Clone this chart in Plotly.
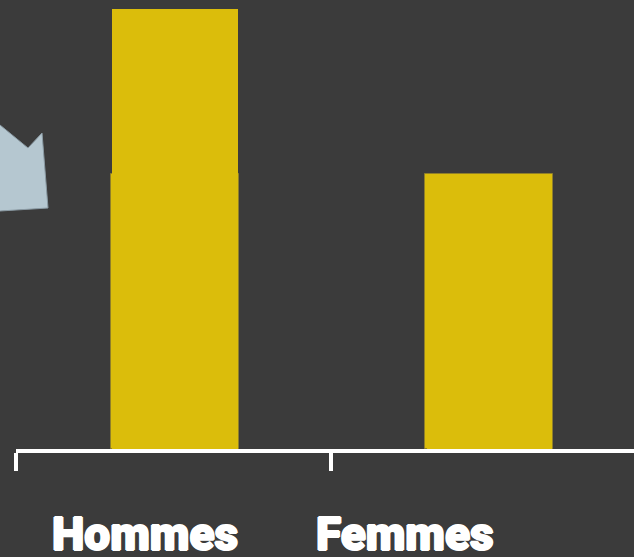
import plotly.graph_objects as go

categories = ["Hommes", "Femmes"]
values = [16, 10]
base_values = [10, 10]
labels = ["Hommes", "Femmes"]

BG = "#3b3b3b"
YEL = "#dbbd0b"

W, H = 634, 557
ML, MR, MT, MB = 16, 0, 0, 108
PW = W - ML - MR
PH = H - MT - MB
CAT = 314.5  # pixels per category
SHIFT = 1.7 / CAT

def px(x):
    return (x - ML) / PW

def py(y):
    return (H - MB - y) / PH

fig = go.Figure()
fig.add_trace(go.Bar(x=categories, y=base_values, width=0.407, offset=-0.2035 + SHIFT,
                     marker=dict(color=YEL, line=dict(color="#8f7f2a", width=1)),
                     hoverinfo="skip"))
fig.add_trace(go.Bar(x=categories, y=values, width=0.4, offset=-0.2 + SHIFT,
                     marker=dict(color=YEL, line=dict(width=0))))

arrow = [(-30, 100), (0, 125), (28, 148), (42, 133), (48, 208), (0, 211), (-30, 212)]
path = "M " + " L ".join(f"{px(a):.4f},{py(b):.4f}" for a, b in arrow) + " Z"
fig.add_shape(type="path", path=path, xref="paper", yref="paper",
              fillcolor="#b5c7d0", line=dict(color="#8a9aa3", width=1))

ann_px = [144.5, 404.5]
shadow = "1px 0 0 white, -1px 0 0 white, 0 1px 0 white, 0 -1px 0 white"
for lab, xp in zip(labels, ann_px):
    fig.add_annotation(x=px(xp), xref="paper", y=-0.19, yref="paper", text=lab,
                       showarrow=False, xanchor="center", yanchor="middle",
                       font=dict(family="Roboto", size=46, color="white", weight=900,
                                 shadow=shadow))

fig.update_layout(
    width=W, height=H, barmode="overlay", showlegend=False,
    paper_bgcolor=BG, plot_bgcolor=BG,
    margin=dict(l=ML, r=MR, t=MT, b=MB),
    xaxis=dict(type="category", range=[-0.5, -0.5 + PW / CAT], showgrid=False,
               showline=True, linecolor="white", linewidth=4,
               ticks="outside", tickson="boundaries", ticklen=18, tickwidth=4,
               tickcolor="white", showticklabels=False, zeroline=False),
    yaxis=dict(range=[0, 16 * PH / 440], visible=False),
    bargap=0,
)
fig.write_html("out.html", config={"displayModeBar": False},
               post_script="document.body.style.margin='0';document.body.style.background='#3b3b3b';")
